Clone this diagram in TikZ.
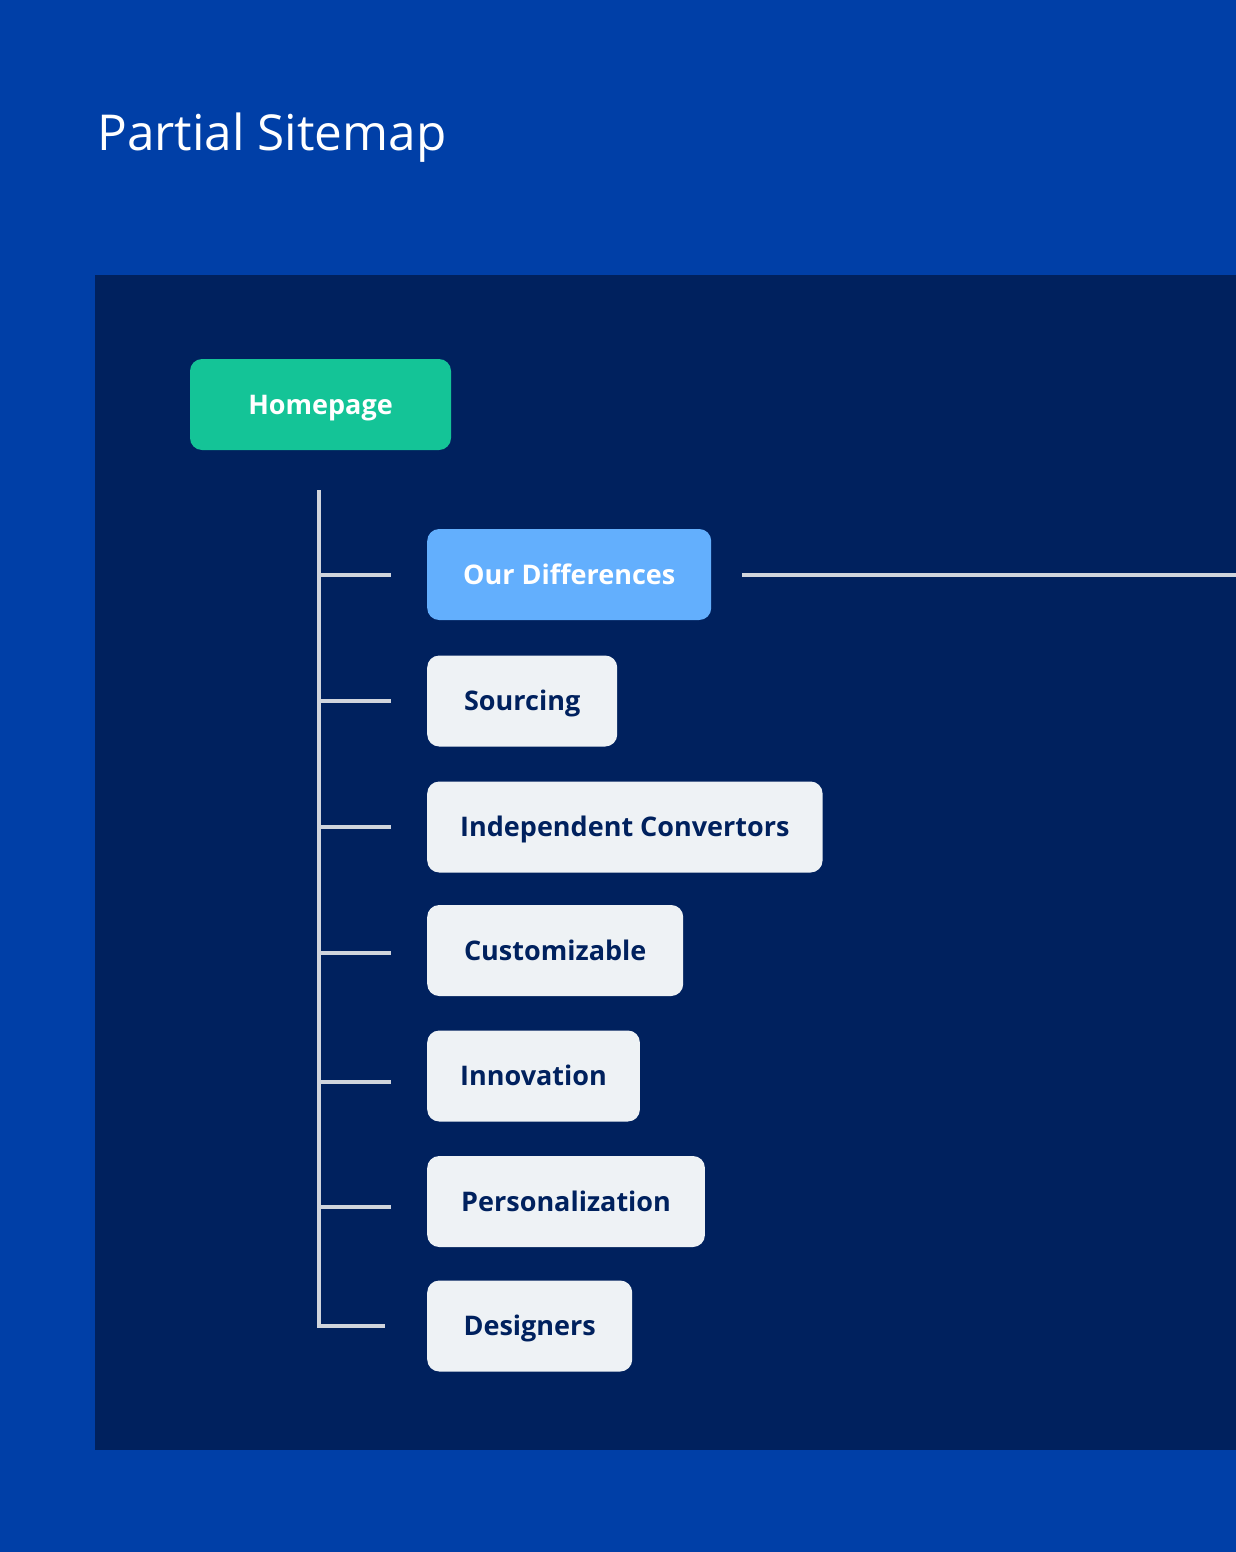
\documentclass[tikz,border=0pt]{standalone}
\usepackage{fontspec}
\setmainfont{Open Sans}
\usetikzlibrary{positioning}
\definecolor{pagebg}{HTML}{003FA7}
\definecolor{panelbg}{HTML}{00215E}
\definecolor{rootgreen}{HTML}{14C497}
\definecolor{activeblue}{HTML}{63AFFD}
\definecolor{leaffill}{HTML}{EEF2F5}
\definecolor{linegray}{HTML}{D0D5DD}
\begin{document}
\begin{tikzpicture}[x=1pt,y=-1pt,
    box/.style={rounded corners=12pt, inner xsep=35pt, inner ysep=0pt,
      minimum height=91pt, text height=19.3pt, text depth=0pt,
      font=\fontsize{27}{32}\selectfont\bfseries},
    root/.style={box, fill=rootgreen, text=white, minimum width=261pt},
    active/.style={box, anchor=west, fill=activeblue, text=white},
    leaf/.style={box, anchor=west, fill=leaffill, text=panelbg},
    branch/.style={draw=linegray, line width=3.2pt}]
  % page and panel
  \fill[pagebg] (0,0) rectangle (1236,1552);
  \fill[panelbg] (95,275) rectangle (1236,1450);
  \useasboundingbox (0,0) rectangle (1236,1552);
  \node[anchor=base west, inner sep=0pt, text=white,
    font=\fontsize{49.5}{56}\selectfont] (title) at (97,150) {Partial Sitemap};
  % pages
  \node[root] (home) at (320.5,404.5) {Homepage};
  \node[active, minimum width=284pt] (diff) at (427,574.5) {Our Differences};
  \node[leaf, minimum width=190pt] (src) at (427,701) {Sourcing};
  \node[leaf, inner xsep=33pt] (conv) at (427,827) {Independent Convertors};
  \node[leaf, minimum width=256pt] (cust) at (427,950.5) {Customizable};
  \node[leaf, inner xsep=33pt] (innov) at (427,1076) {Innovation};
  \node[leaf, inner xsep=34pt] (pers) at (427,1201.5) {Personalization};
  \node[leaf, minimum width=205pt] (des) at (427,1326) {Designers};
  % tree lines
  \coordinate (top) at (319,490);
  \coordinate (corner) at (319,1326);
  \foreach \name/\y in {diff/575, src/701, conv/827, cust/953, innov/1082, pers/1207} {
    \coordinate (\name-s) at (319,\y);
    \coordinate (\name-e) at (391,\y);
    \draw[branch] (\name-s) -- (\name-e);
  }
  \coordinate (des-e) at (385,1326);
  \draw[branch, line join=miter] (top) -- (corner) -- (des-e);
  \coordinate (diff-out) at (742,575);
  \coordinate (edge) at (1236,575);
  \draw[branch] (diff-out) -- (edge);
\end{tikzpicture}
\end{document}
